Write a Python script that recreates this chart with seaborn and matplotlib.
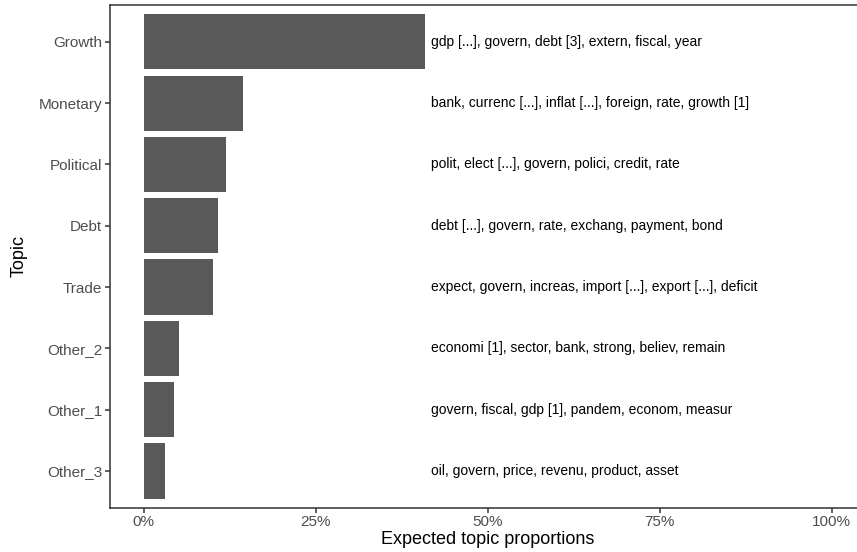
import matplotlib
matplotlib.use("Agg")
import matplotlib.pyplot as plt
import seaborn as sns
import pandas as pd
from matplotlib.ticker import PercentFormatter

# topics from top to bottom, with expected proportions and top words
topics = ["Growth", "Monetary", "Political", "Debt", "Trade", "Other_2", "Other_1", "Other_3"]
proportions = [0.409, 0.144, 0.120, 0.108, 0.101, 0.051, 0.044, 0.031]
top_words = [
    "gdp [...], govern, debt [3], extern, fiscal, year",
    "bank, currenc [...], inflat [...], foreign, rate, growth [1]",
    "polit, elect [...], govern, polici, credit, rate",
    "debt [...], govern, rate, exchang, payment, bond",
    "expect, govern, increas, import [...], export [...], deficit",
    "economi [1], sector, bank, strong, believ, remain",
    "govern, fiscal, gdp [1], pandem, econom, measur",
    "oil, govern, price, revenu, product, asset",
]
x_ticks = [0, 0.25, 0.5, 0.75, 1.0]

df = pd.DataFrame({"topic": topics, "prop": proportions, "words": top_words})

sns.set_theme(style="white")
plt.rcParams["font.family"] = ["Liberation Sans", "DejaVu Sans"]

fig = plt.figure(figsize=(8.57, 5.52), dpi=100)
ax = fig.add_axes([110 / 857, 44.3 / 552, 756 / 857, 502.7 / 552])

sns.barplot(data=df, x="prop", y="topic", order=topics, orient="h",
            color="#595959", saturation=1, width=0.9, linewidth=0, ax=ax)

# top words next to the bars
label_x = df["prop"].max() + 0.009
for i, words in enumerate(df["words"]):
    ax.text(label_x, i, words, ha="left", va="center", fontsize=10, color="black")

ax.set_xlim(-0.049, 1.05)
ax.set_ylim(len(topics) - 0.4, -0.6)
ax.set_xticks(x_ticks)
ax.xaxis.set_major_formatter(PercentFormatter(1.0, decimals=0))

ax.set_xlabel("Expected topic proportions", fontsize=13, color="black", labelpad=1)
ax.set_ylabel("Topic", fontsize=13, color="black", labelpad=8)

for side in ["left", "bottom", "top"]:
    ax.spines[side].set_visible(True)
    ax.spines[side].set_color("#333333")
    ax.spines[side].set_linewidth(1.1)
ax.spines["right"].set_visible(False)

ax.tick_params(axis="both", which="major", length=3.5, width=1.1, color="#333333",
               labelsize=11, labelcolor="#4D4D4D", pad=2, bottom=True, left=True)
ax.grid(False)

fig.savefig("out.png", dpi=100)
